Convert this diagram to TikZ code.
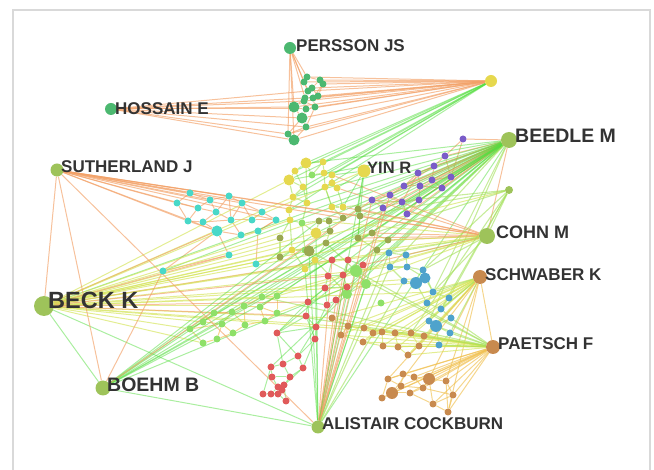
\documentclass[tikz,border=0pt]{standalone}
\usepackage{fontspec}
\setmainfont{Liberation Sans}
\usetikzlibrary{backgrounds}

\definecolor{labc}{HTML}{333333}
\definecolor{framec}{HTML}{D9D9D9}
\definecolor{hubc}{HTML}{9EC35A}
\definecolor{pgc}{HTML}{4CB870}
\definecolor{cyc}{HTML}{48D8C8}
\definecolor{yel}{HTML}{E6D84E}
\definecolor{lgr}{HTML}{8EE068}
\definecolor{oli}{HTML}{9AA850}
\definecolor{redc}{HTML}{E05A5A}
\definecolor{purc}{HTML}{7A5CC8}
\definecolor{bluc}{HTML}{4FA3CC}
\definecolor{brnc}{HTML}{C88A4E}
\definecolor{edgeor}{HTML}{F2A066}
\definecolor{edgegr}{HTML}{55DD40}
\definecolor{edgeyl}{HTML}{D4E458}
\definecolor{edgelm}{HTML}{A2E058}
\definecolor{edgegd}{HTML}{F0C050}

\tikzset{
  dot/.style={circle, inner sep=0pt, minimum size=7pt},
  hub/.style={circle, inner sep=0pt, fill=hubc},
  lab/.style={anchor=west, inner sep=0pt, text=labc, font=\bfseries\fontsize{#1}{#1}\selectfont},
  lab/.default=17,
  eor/.style={draw=edgeor, line width=1pt, opacity=.65},
  egr/.style={draw=edgegr, line width=1pt, opacity=.5},
  eyl/.style={draw=edgeyl, line width=1pt, opacity=.65},
  elm/.style={draw=edgelm, line width=1.1pt, opacity=.6},
  egd/.style={draw=edgegd, line width=1pt, opacity=.65}
}

\begin{document}
\begin{tikzpicture}[x=1pt,y=-1pt]
\useasboundingbox (0,0) rectangle (654,470);

% clusters
\foreach \x/\y/\s [count=\i] in {307/77/6,304/82/6,320/80/6,323/84/6,308/91/6,312/88/6,318/96/6,305/98/6,313/98/6,294/107/10,304/101/6,306/109/6,315/107/6,302/118/10,306/127/6,288/134/6,294/140/10}
  \node[dot,fill=pgc,minimum size=\s pt+1pt] (pg\i) at (\x,\y) {};
\foreach \x/\y/\s [count=\i] in {190/193/6,177/203/6,210/200/6,198/208/6,229/196/6,242/203/6,216/212/6,262/212/6,188/221/6,203/222/6,231/220/6,252/220/6,276/220/6,217/231/10,241/235/6,258/231/6,229/255/6,256/264/6,163/271/6}
  \node[dot,fill=cyc,minimum size=\s pt+1pt] (cy\i) at (\x,\y) {};
\foreach \x/\y/\s/\c [count=\i] in {306/163/10/yel,323/162/6/yel,289/180/10/yel,295/171/6/yel,312/175/6/lgr,324/173/6/yel,332/175/6/yel,332/183/6/yel,303/187/6/yel,325/187/6/yel,337/188/6/yel,293/197/6/yel,307/203/6/yel,332/207/6/yel,343/207/6/yel,289/210/6/yel,290/220/6/yel,302/223/6/lgr,316/233/10/yel,292/250/6/yel,305/250/6/lgr,315/260/6/yel,305/269/6/yel,319/221/6/oli,329/221/6/oli,343/218/6/oli,358/209/6/oli,360/216/6/oli,330/231/6/oli,280/238/6/oli,326/243/6/oli,309/251/10/oli,280/257/6/oli,358/238/6/oli,372/233/6/oli,377/250/6/oli,388/240/6/oli,356/271/11/lgr,366/284/9/lgr,347/294/9/lgr,381/303/6/lgr}
  \node[dot,fill=\c,minimum size=\s pt+1pt] (cl\i) at (\x,\y) {};
\foreach \x/\y [count=\i] in {332/260,348/260,363/265,328/276,343/275,325/288,347/287,308/302,327/305,336/300,306/316,316/327,315/339,277/333,298/356,283/364,271/367,303/368,290/377,272/377,278/387,284/385,263/394,271/394,278/394,286/401,282/390}
  \node[dot,fill=redc] (rd\i) at (\x,\y) {};
\foreach \x/\y [count=\i] in {262/297,277/296,244/306,260/307,277/313,232/312,214/313,203/322,222/324,245/325,265/321,190/329,233/333,217/339,203/343}
  \node[dot,fill=lgr] (gl\i) at (\x,\y) {};
\foreach \x/\y [count=\i] in {463/139,445/156,434/166,418/173,404/186,432/180,451/177,420/186,442/188,390/195,372/200,402/202,419/200,383/208,407/214}
  \node[dot,fill=purc] (pu\i) at (\x,\y) {};
\foreach \x/\y/\s [count=\i] in {389/253/6,406/255/6,390/267/6,407/267/6,423/270/6,425/278/10,416/283/11,404/281/6,433/292/6,449/298/6,427/303/6,441/309/6,451/318/6,429/321/6,436/326/11,450/333/6,439/345/6}
  \node[dot,fill=bluc,minimum size=\s pt+1pt] (bl\i) at (\x,\y) {};
\foreach \x/\y [count=\i] in {332/318,348/326,341/335,364/328,373/333,363/342,382/332,395/333,411/333,424/336,383/346,398/347,419/346,408/355}
  \node[dot,fill=brnc] (bu\i) at (\x,\y) {};
\foreach \x/\y/\s [count=\i] in {388/379/6,403/374/6,414/377/6,429/379/11,446/381/6,401/386/6,423/388/6,392/393/11,410/393/6,453/395/6,433/404/6,448/412/6,382/398/6}
  \node[dot,fill=brnc,minimum size=\s pt+1pt] (bd\i) at (\x,\y) {};

% authors
\node[hub,fill=pgc,minimum size=12pt] (per) at (290,48) {};
\node[hub,fill=pgc,minimum size=12pt] (hos) at (111,109) {};
\node[hub,fill=yel,minimum size=12pt] (ytop) at (491,81) {};
\node[hub,minimum size=16pt] (bee) at (509,140) {};
\node[hub,minimum size=13pt] (suth) at (57,170) {};
\node[hub,fill=yel,minimum size=13pt] (yin) at (364,171) {};
\node[hub,minimum size=16pt] (coh) at (487,236) {};
\node[hub,minimum size=8pt] (gsm) at (509,190) {};
\node[hub,fill=brnc,minimum size=14pt] (sch) at (480,277) {};
\node[hub,minimum size=20pt] (beck) at (44,306) {};
\node[hub,fill=brnc,minimum size=14pt] (pae) at (493,347) {};
\node[hub,minimum size=15pt] (boe) at (103,388) {};
\node[hub,minimum size=13pt] (ali) at (318,427) {};

\node[lab] (tper) at (296,46) {PERSSON JS};
\node[lab] (thos) at (115,109) {HOSSAIN E};
\node[lab=19.5] (tbee) at (515,136) {BEEDLE M};
\node[lab] (tsuth) at (61,167) {SUTHERLAND J};
\node[lab=16.5] (tyin) at (367,168) {YIN R};
\node[lab=18] (tcoh) at (496,232) {COHN M};
\node[lab] (tsch) at (485,275) {SCHWABER K};
\node[lab=23.5] (tbeck) at (48,300) {BECK K};
\node[lab] (tpae) at (498,344) {PAETSCH F};
\node[lab=19.5] (tboe) at (107,385) {BOEHM B};
\node[lab] (tali) at (322,424) {ALISTAIR COCKBURN};

\begin{scope}[on background layer]
\draw[framec,line width=1.5pt] (13,470) -- (13,10) -- (650,10) -- (650,470);

% inside the clusters
\foreach \a/\b in {1/2,1/3,3/4,2/5,5/6,6/7,4/7,5/8,8/9,9/7,8/10,10/11,11/12,12/13,9/13,12/14,14/15,15/16,16/17,15/17,10/14,13/15,3/6,4/9,11/13,14/16}
  \draw[eor] (pg\a) -- (pg\b);
\foreach \a/\b in {1/2,1/3,2/4,3/4,3/5,5/6,4/7,7/5,6/8,7/11,4/9,9/10,10/11,11/12,12/8,12/13,8/13,10/14,14/15,15/16,16/13,11/15,14/17,16/18,9/14,6/12,2/9,13/16,14/19,17/19,3/7,5/11,6/11,7/10}
  \draw[eor] (cy\a) -- (cy\b);
\foreach \a/\b in {3/4,4/1,1/2,2/6,6/7,7/8,8/11,11/15,15/14,14/10,10/8,1/5,5/6,3/9,9/12,12/16,16/17,17/18,18/13,13/12,13/9,17/20,20/21,21/18,18/19,19/24,24/25,25/29,29/31,31/32,32/21,32/22,22/23,23/20,19/29,14/26,26/27,27/28,28/34,34/35,35/37,37/36,36/34,26/25,30/17,30/33,33/20,3/12,2/5,4/9,10/14,24/18,22/31,1/13,6/10,31/38,38/39,39/40,40/22}
  \draw[elm] (cl\a) -- (cl\b);
\foreach \a/\b in {1/2,2/3,1/4,4/5,2/5,5/7,4/6,6/7,6/9,9/10,7/10,8/9,8/11,11/12,9/12,12/13,11/14,14/12,13/15,14/15,14/16,15/16,16/17,15/18,18/19,16/19,17/20,19/20,20/21,21/22,22/19,18/22,21/24,23/24,24/25,25/26,22/26,17/23,13/18,11/13,8/14,10/12,12/15,6/8}
  \draw[egr] (rd\a) -- (rd\b);
\foreach \a/\b in {1/2,1/3,2/4,3/4,4/5,2/5,3/6,6/7,7/8,8/9,9/6,6/10,10/11,11/5,4/11,8/12,12/9,9/13,13/10,13/14,14/15,15/12,14/9,3/10}
  \draw[egd] (gl\a) -- (gl\b);
\foreach \a/\b in {1/2,2/3,3/4,2/7,7/6,6/3,6/9,9/8,8/4,4/5,5/10,10/11,11/14,14/12,12/10,12/13,13/8,13/15,15/12,5/8,1/7,7/9,3/5,11/12,4/12}
  \draw[eor] (pu\a) -- (pu\b);
\foreach \a/\b in {1/2,1/3,2/4,3/4,4/5,5/6,6/7,7/8,3/8,6/9,9/10,9/11,10/12,11/12,12/13,12/14,14/15,13/15,15/16,15/17,16/17,7/11,5/9,4/6}
  \draw[elm] (bl\a) -- (bl\b);
\foreach \a/\b in {1/2,2/3,2/4,4/5,5/6,3/6,5/7,7/8,8/9,9/10,7/11,11/12,12/13,13/10,12/14,14/13,8/12,9/13,6/11,4/7}
  \draw[eyl] (bu\a) -- (bu\b);
\foreach \a/\b in {1/2,2/3,3/4,4/5,1/6,6/7,7/4,6/8,8/9,9/7,7/10,5/10,10/11,11/12,12/10,8/13,13/1,9/11,2/6,3/7,4/11,5/12}
  \draw[egd] (bd\a) -- (bd\b);

% between authors and clusters
\foreach \i in {5,8,10,11,12,14,15,16,17} \draw[eor] (hos) -- (pg\i);
\foreach \i in {1,2,5,8,10,16,17} \draw[eor] (per) -- (pg\i);
\foreach \i in {1,...,17} \draw[eor] (ytop) -- (pg\i);
\foreach \i in {1,2,3,4,6,7,9,12,16} \draw[egr] (ytop) -- (cl\i);

\foreach \i in {1,...,15} \draw[eor] (bee) -- (pu\i);
\foreach \i in {1,3,12,16,19,24,27,28,32} \draw[egr] (bee) -- (cl\i);
\foreach \i in {1,2,5,7,8,10,14,17} \draw[egr] (bee) -- (rd\i);
\foreach \i in {1,2,4,6,8,12} \draw[egr] (bee) -- (gl\i);
\foreach \i in {1,3,9,14} \draw[elm] (bee) -- (bl\i);
\foreach \n in {beck,boe,ali,cy19} \draw[egr] (bee) -- (\n);
\draw[eor] (bee) -- (coh);

\foreach \i in {3,12,17,19,20,24,30,32,33,35,37} \draw[eyl] (beck) -- (cl\i);
\foreach \i in {1,3,6,7,9} \draw[eyl] (beck) -- (bl\i);
\foreach \i in {1,4,7} \draw[eyl] (beck) -- (bu\i);
\foreach \i in {1,3,8,12,15} \draw[eyl] (beck) -- (gl\i);
\foreach \i in {1,4,8,11} \draw[eor] (beck) -- (rd\i);
\foreach \i in {14,17} \draw[eor] (beck) -- (cy\i);
\foreach \n in {coh,gsm,yin} \draw[eyl] (beck) -- (\n);
\foreach \n in {boe,ali} \draw[egr] (beck) -- (\n);

\foreach \i in {7,11,15,27,28,34,35,37} \draw[eor] (coh) -- (cl\i);
\foreach \i in {24,31,36} \draw[eyl] (coh) -- (cl\i);
\foreach \i in {1,2,5,9} \draw[elm] (coh) -- (bl\i);
\foreach \i in {1,2,5} \draw[eyl] (coh) -- (gl\i);
\draw[eor] (coh) -- (rd3);
\foreach \i in {5,10,12} \draw[elm] (gsm) -- (bl\i);
\foreach \i in {15,28,34} \draw[elm] (gsm) -- (cl\i);
\foreach \n in {coh,bu9} \draw[elm] (gsm) -- (\n);

\foreach \i in {1,...,14} \draw[eyl] (sch) -- (bu\i);
\foreach \i in {1,4,5,8,12} \draw[egd] (sch) -- (bd\i);
\foreach \i in {9,12,16} \draw[elm] (sch) -- (bl\i);
\draw[egd] (sch) -- (pae);
\foreach \i in {1,...,13} \draw[egd] (pae) -- (bd\i);
\foreach \i in {1,...,14} \draw[eyl] (pae) -- (bu\i);
\foreach \i in {13,15,16,17} \draw[elm] (pae) -- (bl\i);
\foreach \n in {cl32,cl38,gl1,gl5} \draw[elm] (pae) -- (\n);

\foreach \i in {19,22,23,32,36,38,39,40} \draw[egr] (ali) -- (cl\i);
\foreach \i in {1,2,3,5,7,10} \draw[eor] (ali) -- (rd\i);
\foreach \i in {10,11,14} \draw[eor] (ali) -- (pu\i);
\foreach \i in {1,3,8} \draw[elm] (ali) -- (bl\i);
\draw[egr] (ali) -- (yin);
\draw[egr] (ali) -- (boe);

\foreach \i in {19,24,29,32} \draw[egr] (boe) -- (cl\i);
\foreach \n in {rd1,rd7,gl1,gl2} \draw[egr] (boe) -- (\n);
\foreach \n in {cy19,pu11} \draw[eor] (boe) -- (\n);

\foreach \i in {1,2,3,4,5,6,8,9,13,14} \draw[eor] (suth) -- (cy\i);
\foreach \n in {cl26,cl28,coh,beck,boe,ali} \draw[eor] (suth) -- (\n);
\foreach \i in {7,11,15,27,34} \draw[egr] (yin) -- (cl\i);
\end{scope}
\end{tikzpicture}
\end{document}
